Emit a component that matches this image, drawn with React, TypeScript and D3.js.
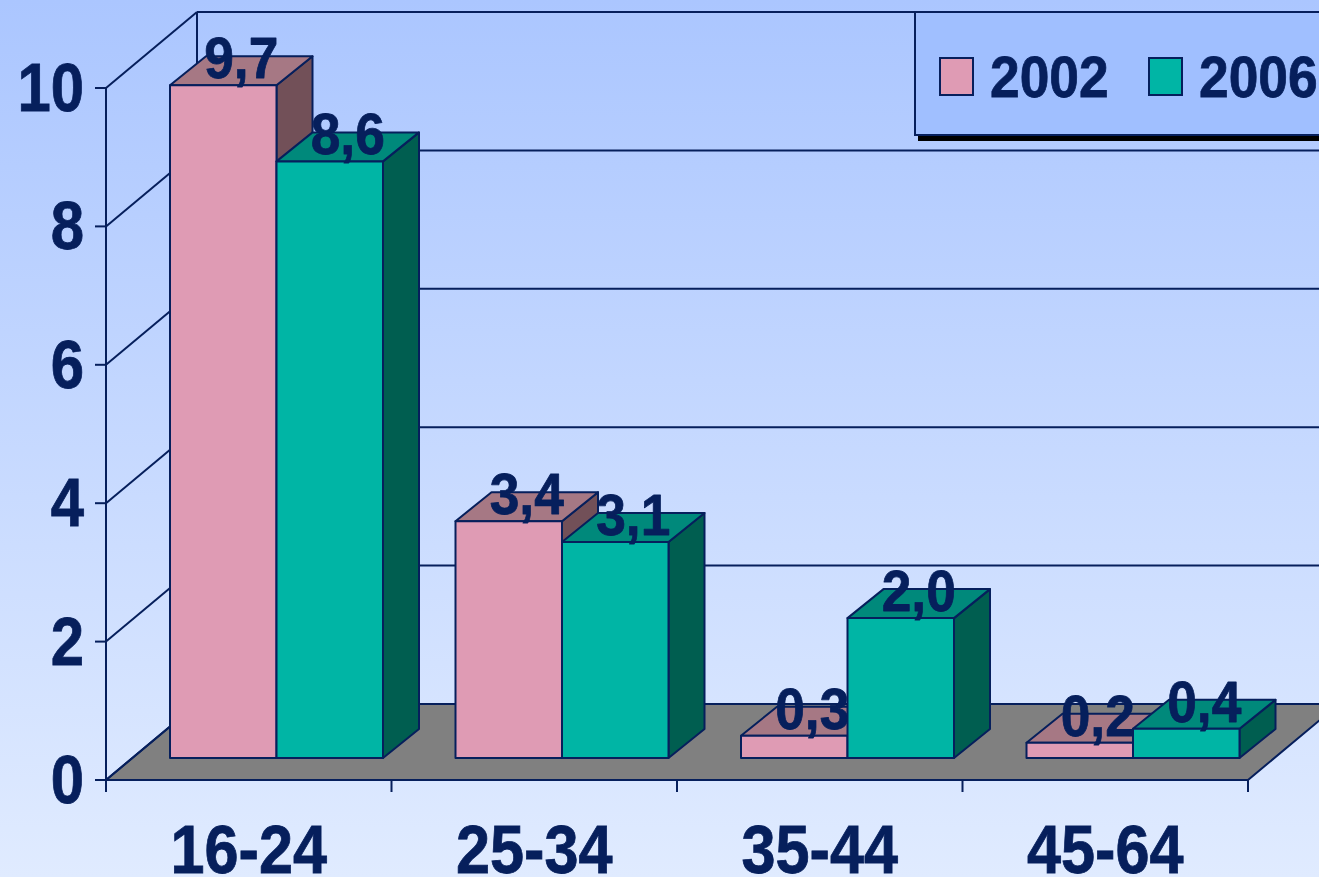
import React from "react";
import * as d3 from "d3";

const categories = ["16-24", "25-34", "35-44", "45-64"];
const seriesNames = ["2002", "2006"];
const values2002 = [9.7, 3.4, 0.3, 0.2];
const values2006 = [8.6, 3.1, 2.0, 0.4];
const yTicks = [0, 2, 4, 6, 8, 10];

const NAVY = "#061f5c";
const FACES: Record<string, { front: string; top: string; side: string }> = {
  "2002": { front: "#df9bb4", top: "#a67884", side: "#725058" },
  "2006": { front: "#00b5a5", top: "#00897b", side: "#005e50" },
};

// excel-ish 3d offsets
const WALL_DX = 91;
const WALL_DY = 76;
const BAR_DX = 36;
const BAR_DY = 29;
const BASE_LIFT = 22;
const TOP_LIFT = 23.5;

const x = d3.scaleBand().domain(categories).range([106, 1248]);
const xBar = d3.scaleBand().domain(seriesNames).range([64, 277]);
const y = d3.scaleLinear().domain([0, 10]).range([780, 88]);

const poly = (pts: [number, number][]) => d3.line()(pts) + "Z";

const Label = (props: { x: number; y: number; sx: number; size: number; anchor: string; text: string }) => (
  <text
    transform={`translate(${props.x},${props.y}) scale(${props.sx},1)`}
    textAnchor={props.anchor}
    fontFamily="Liberation Sans"
    fontWeight="bold"
    fontSize={props.size}
    fill={NAVY}
    stroke={NAVY}
    strokeWidth={0.8}
  >
    {props.text}
  </text>
);

const Bar = ({ cat, name, value }: { cat: string; name: string; value: number }) => {
  const x0 = x(cat)! + xBar(name)!;
  const x1 = x0 + xBar.bandwidth();
  const base = y(0) - BASE_LIFT;
  const top = y(value) - TOP_LIFT;
  const c = FACES[name];
  const text = d3.format(".1f")(value).replace(".", ",");
  return (
    <g stroke={NAVY} strokeWidth={2} strokeLinejoin="round">
      <path
        d={poly([[x1, base], [x1 + BAR_DX, base - BAR_DY], [x1 + BAR_DX, top - BAR_DY], [x1, top]])}
        fill={c.side}
      />
      <path
        d={poly([[x0, top], [x1, top], [x1 + BAR_DX, top - BAR_DY], [x0 + BAR_DX, top - BAR_DY]])}
        fill={c.top}
      />
      <rect x={x0} y={top} width={x1 - x0} height={base - top} fill={c.front} />
      <Label
        x={(x0 + x1) / 2 + BAR_DX / 2}
        y={top - 7}
        sx={0.92}
        size={58}
        anchor="middle"
        text={text}
      />
    </g>
  );
};

export default function App() {
  const [x0, x1] = x.range();
  const y0 = y(0);
  const yTop = y(10);
  return (
    <svg
      width={1319}
      height={877}
      viewBox="0 0 1319 877"
      style={{ position: "absolute", left: 0, top: 0, display: "block" }}
    >
      <defs>
        <linearGradient id="bg" x1="0" y1="0" x2="0" y2="1">
          <stop offset="0" stopColor="#abc6ff" />
          <stop offset="1" stopColor="#e0ebff" />
        </linearGradient>
      </defs>
      <rect width={1319} height={877} fill="url(#bg)" />

      {/* floor */}
      <path
        d={poly([[x0, y0], [x1, y0], [x1 + WALL_DX, y0 - WALL_DY], [x0 + WALL_DX, y0 - WALL_DY]])}
        fill="#808080"
        stroke={NAVY}
        strokeWidth={2}
      />

      {/* walls and gridlines */}
      <g fill="none" stroke={NAVY} strokeWidth={2}>
        <line x1={x0} x2={x0} y1={yTop} y2={y0} />
        <line x1={x0 + WALL_DX} x2={x0 + WALL_DX} y1={yTop - WALL_DY} y2={y0 - WALL_DY} />
        {yTicks.map((t) => (
          <g key={t}>
            <line x1={x0} y1={y(t)} x2={x0 + WALL_DX} y2={y(t) - WALL_DY} />
            <line x1={x0 + WALL_DX} y1={y(t) - WALL_DY} x2={x1 + WALL_DX} y2={y(t) - WALL_DY} />
            <line x1={x0 - 11} x2={x0} y1={y(t)} y2={y(t)} />
          </g>
        ))}
        {[...categories.map((c) => x(c)!), x1].map((p) => (
          <line key={p} x1={p} x2={p} y1={y0} y2={y0 + 12} />
        ))}
      </g>

      {yTicks.map((t) => (
        <Label key={t} x={84} y={y(t) + 23} sx={0.88} size={68} anchor="end" text={String(t)} />
      ))}
      {categories.map((c) => (
        <Label key={c} x={x(c)! + x.bandwidth() / 2} y={873} sx={0.9} size={68} anchor="middle" text={c} />
      ))}

      {/* bars, each label gets covered by the next bar like the original */}
      {categories.map((c, i) => (
        <g key={c}>
          <Bar cat={c} name="2002" value={values2002[i]} />
          <Bar cat={c} name="2006" value={values2006[i]} />
        </g>
      ))}

      {/* legend */}
      <rect x={918} y={18} width={420} height={123} fill="#000" />
      <rect x={915} y={12} width={420} height={123} fill="#a0bfff" stroke={NAVY} strokeWidth={2} />
      {seriesNames.map((name, i) => (
        <g key={name}>
          <rect
            x={940 + i * 209}
            y={58}
            width={33}
            height={37}
            fill={FACES[name].front}
            stroke={NAVY}
            strokeWidth={2}
          />
          <Label x={990 + i * 209} y={97} sx={0.92} size={58} anchor="start" text={name} />
        </g>
      ))}
    </svg>
  );
}
